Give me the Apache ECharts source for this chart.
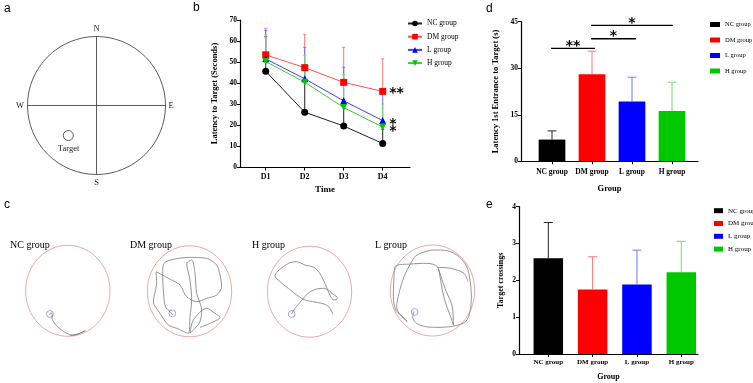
<!DOCTYPE html>
<html>
<head>
<meta charset="utf-8">
<script src="https://cdn.jsdelivr.net/npm/echarts@6/dist/echarts.min.js"></script>
<style>
  html, body { margin: 0; padding: 0; background: #fff; }
  #main { width: 753px; height: 383px; }
</style>
</head>
<body>
<div id="main"></div>
<script>
// ---- data ----
const groups = ['NC group', 'DM group', 'L group', 'H group'];
const groupColors = ['#000000', '#ff0000', '#0000ff', '#00c800'];
const errColors = ['#222222', '#ff7373', '#7373ff', '#73d873'];

// panel b: latency to target per day
const days = [1, 2, 3, 4];
const dayLabels = ['D1', 'D2', 'D3', 'D4'];
const ncLatency = [45.6, 26.1, 19.5, 11.2];
const dmLatency = [53.4, 47.3, 40.3, 36.0];
const lLatency = [51.5, 42.0, 31.5, 22.1];
const hLatency = [50.2, 40.4, 28.3, 19.0];
const ncLatencyUp = [62, 47, 32, 18];
const dmLatencyUp = [66, 63, 57, 51.5];
const lLatencyUp = [65, 57, 47.5, 35];
const hLatencyUp = [63, 53, 44, 30];
const d4Marks = ['', '**', '*', '*'];

// panel d: latency 1st entrance
const entryMean = [7.0, 28.1, 19.3, 16.2];
const entryUp = [9.8, 35.5, 27.1, 25.5];
const sigFrom = [0.975, 1.975, 1.975];
const sigTo = [2.075, 3.1, 4.02];
const sigLevel = [36.4, 39.5, 43.8];
const sigText = ['**', '*', '*'];

// panel e: target crossings
const crossMean = [2.6, 1.75, 1.89, 2.22];
const crossUp = [3.57, 2.64, 2.82, 3.06];

// panel c: swim paths (arena units 0..300)
const ncPath = [[88,225],[93,218],[97,223],[96,233],[101,246],[111,259],[125,270],[140,280],[156,285],[176,281],[196,272],[172,283],[150,287]];
const dmPath = [[98,225],[90,215],[76,200],[70,150],[68,100],[72,70],[100,58],[150,52],[200,55],[230,75],[240,105],[245,140],[230,165],[200,175],[170,185],[140,170],[120,135],[95,120],[48,95],[50,130],[40,185],[60,220],[85,255],[110,265],[145,280],[150,230],[155,180],[150,120],[140,70],[155,60],[165,100],[170,160],[185,210],[180,245],[165,265],[150,280],[160,240],[200,205],[225,220],[240,232],[210,250],[180,262]];
const hPath = [[95,222],[105,205],[118,190],[130,175],[148,157],[170,147],[190,145],[208,152],[218,162],[228,168],[232,176],[222,180],[212,170],[203,150],[190,120],[178,98],[162,82],[135,75],[110,65],[90,68],[70,80],[52,95],[45,108],[60,125],[85,145],[110,165],[135,180],[165,186],[195,193],[210,205],[218,222]];
const lPath = [[90,215],[86,230],[95,248],[125,260],[165,262],[210,258],[245,245],[258,215],[262,170],[258,120],[248,80],[225,50],[190,32],[150,30],[115,38],[95,48],[80,70],[60,110],[45,160],[38,200],[45,220],[60,235],[70,245],[50,225],[35,210],[28,170],[30,110],[35,78],[80,72],[130,70],[160,80],[168,110],[175,150],[185,190],[200,230],[208,255],[205,200],[185,150],[162,82],[200,85],[240,100],[252,125]];

// ---- layout ----
const serif = 'Liberation Serif';
const sans = 'Liberation Sans';
const trajBoxes = [[20, 240], [140, 240], [260, 240], [384, 240]];
const arenas = [[67.8, 290.8], [189.5, 291.3], [309.5, 291.7], [432.5, 290.5]];
const targets = [[50, 314], [172.3, 313.3], [291.7, 314], [414.7, 312]];
const trajTitles = [[10, 'NC group'], [130, 'DM group'], [252, 'H group'], [375, 'L group']];

const chart = echarts.init(document.getElementById('main'), null, {renderer: 'canvas'});

function axisBase() {
  return {
    axisLine: {show: true, lineStyle: {color: '#000', width: 1.2}},
    axisTick: {show: true, length: 3, lineStyle: {color: '#000', width: 1}},
    splitLine: {show: false},
    axisLabel: {color: '#000', fontFamily: serif, fontWeight: 'bold', fontSize: 7.5, margin: 3},
    nameTextStyle: {color: '#000', fontFamily: serif, fontWeight: 'bold', fontSize: 8.5}
  };
}

function errRender(capW) {
  return function (params, api) {
    const x = api.value(0), m = api.value(1), u = api.value(2);
    const p0 = api.coord([x, m]);
    const p1 = api.coord([x, u]);
    const color = api.visual('color');
    return {
      type: 'group',
      children: [
        {type: 'line', shape: {x1: p0[0], y1: p0[1], x2: p1[0], y2: p1[1]}, style: {stroke: color, lineWidth: 1}},
        {type: 'line', shape: {x1: p1[0] - capW / 2, y1: p1[1], x2: p1[0] + capW / 2, y2: p1[1]}, style: {stroke: color, lineWidth: 1}}
      ]
    };
  };
}

const xAxes = [];
const yAxes = [];
const grids = [];

// b
grids.push({left: 240, top: 20, width: 170, height: 147});
xAxes.push(Object.assign(axisBase(), {
  type: 'value', gridIndex: 0, min: 0.34, max: 4.7,
  axisTick: {show: true, length: 3.5, customValues: days, lineStyle: {color: '#000'}},
  axisLabel: {color: '#000', fontFamily: serif, fontWeight: 'bold', fontSize: 8, margin: 6,
    customValues: days, formatter: v => dayLabels[v - 1]},
  name: 'Time', nameLocation: 'middle', nameGap: 18.5,
  nameTextStyle: {color: '#000', fontFamily: serif, fontWeight: 'bold', fontSize: 9}
}));
yAxes.push(Object.assign(axisBase(), {
  type: 'value', gridIndex: 0, min: 0, max: 70, interval: 10,
  name: 'Latency to Target (Seconds)', nameLocation: 'middle', nameGap: 21
}));

// d
grids.push({left: 521, top: 21.7, width: 177, height: 139.6});
xAxes.push(Object.assign(axisBase(), {
  type: 'value', gridIndex: 1, min: 0.225, max: 4.65,
  axisTick: {show: true, length: 3, customValues: [1, 2, 3, 4], lineStyle: {color: '#000'}},
  axisLabel: {color: '#000', fontFamily: serif, fontWeight: 'bold', fontSize: 7.5, margin: 7,
    customValues: [1, 2, 3, 4], formatter: v => groups[v - 1]},
  name: 'Group', nameLocation: 'middle', nameGap: 23,
  nameTextStyle: {color: '#000', fontFamily: serif, fontWeight: 'bold', fontSize: 8.5}
}));
yAxes.push(Object.assign(axisBase(), {
  type: 'value', gridIndex: 1, min: 0, max: 45, interval: 15,
  name: 'Latency 1st Entrance to Target (s)', nameLocation: 'middle', nameGap: 21
}));

// e
grids.push({left: 519, top: 206.7, width: 179, height: 147.3});
xAxes.push(Object.assign(axisBase(), {
  type: 'value', gridIndex: 2, min: 0.339, max: 4.377,
  axisTick: {show: true, length: 3, customValues: [1, 2, 3, 4], lineStyle: {color: '#000'}},
  axisLabel: {color: '#000', fontFamily: serif, fontWeight: 'bold', fontSize: 7, margin: 5,
    customValues: [1, 2, 3, 4], formatter: v => groups[v - 1]},
  name: 'Group', nameLocation: 'middle', nameGap: 19,
  nameTextStyle: {color: '#000', fontFamily: serif, fontWeight: 'bold', fontSize: 8}
}));
yAxes.push(Object.assign(axisBase(), {
  type: 'value', gridIndex: 2, min: 0, max: 4, interval: 1,
  name: 'Target crossings', nameLocation: 'middle', nameGap: 14,
  nameTextStyle: {color: '#000', fontFamily: serif, fontWeight: 'bold', fontSize: 8}
}));

// c trajectories
trajBoxes.forEach((b, i) => {
  grids.push({left: b[0], top: b[1], width: 100, height: 100});
  xAxes.push({type: 'value', gridIndex: 3 + i, min: 0, max: 300, show: false});
  yAxes.push({type: 'value', gridIndex: 3 + i, min: 0, max: 300, inverse: true, show: false});
});

const series = [];
const latency = [ncLatency, dmLatency, lLatency, hLatency];
const latencyUp = [ncLatencyUp, dmLatencyUp, lLatencyUp, hLatencyUp];
const symbols = ['circle', 'rect', 'triangle', 'triangle'];
const lineColors = ['#222222', '#ff5050', '#4040ff', '#40c840'];

groups.forEach((g, gi) => {
  series.push({
    type: 'custom', name: 'b:err' + gi, xAxisIndex: 0, yAxisIndex: 0, z: 1,
    itemStyle: {color: errColors[gi]},
    renderItem: errRender(3),
    data: days.map((d, i) => [d, latency[gi][i], latencyUp[gi][i]])
  });
});
groups.forEach((g, gi) => {
  series.push({
    type: 'line', name: 'b:' + g, xAxisIndex: 0, yAxisIndex: 0, z: 3,
    symbol: symbols[gi], symbolSize: 7, symbolRotate: gi === 3 ? 180 : 0,
    itemStyle: {color: groupColors[gi]},
    lineStyle: {color: lineColors[gi], width: 1},
    data: days.map((d, i) => {
      const item = {value: [d, latency[gi][i]]};
      if (i === 3 && d4Marks[gi]) {
        item.label = {show: true, position: 'right', distance: 3, formatter: d4Marks[gi],
          color: '#000', fontFamily: 'DejaVu Sans', fontWeight: 'bold', fontSize: 14,
          offset: [0, gi === 1 ? 1.5 : 4]};
      }
      return item;
    })
  });
});

// d bars
groups.forEach((g, gi) => {
  series.push({
    type: 'bar', name: 'd:' + g, xAxisIndex: 1, yAxisIndex: 1, barWidth: 26.7, barGap: '-100%',
    itemStyle: {color: groupColors[gi]},
    data: [[gi + 1, entryMean[gi]]]
  });
});
series.push({
  type: 'custom', name: 'd:err', xAxisIndex: 1, yAxisIndex: 1, z: 3,
  renderItem: errRender(9),
  data: groups.map((g, gi) => ({value: [gi + 1, entryMean[gi], entryUp[gi]], itemStyle: {color: errColors[gi]}}))
});
series.push({
  type: 'custom', name: 'd:sig', xAxisIndex: 1, yAxisIndex: 1, z: 4,
  renderItem: function (params, api) {
    const a = api.coord([api.value(0), api.value(2)]);
    const b = api.coord([api.value(1), api.value(2)]);
    return {
      type: 'group',
      children: [
        {type: 'line', shape: {x1: a[0], y1: a[1], x2: b[0], y2: b[1]}, style: {stroke: '#000', lineWidth: 1.3}},
        {type: 'text', x: (a[0] + b[0]) / 2, y: a[1] + 4.5,
          style: {text: sigText[params.dataIndex], align: 'center', verticalAlign: 'bottom',
            font: 'bold 14px "DejaVu Sans"', fill: '#000'}}
      ]
    };
  },
  data: sigFrom.map((f, i) => [f, sigTo[i], sigLevel[i]])
});

// e bars
groups.forEach((g, gi) => {
  series.push({
    type: 'bar', name: 'e:' + g, xAxisIndex: 2, yAxisIndex: 2, barWidth: 29.5, barGap: '-100%',
    itemStyle: {color: groupColors[gi]},
    data: [[gi + 1, crossMean[gi]]]
  });
});
series.push({
  type: 'custom', name: 'e:err', xAxisIndex: 2, yAxisIndex: 2, z: 3,
  renderItem: errRender(9),
  data: groups.map((g, gi) => ({value: [gi + 1, crossMean[gi], crossUp[gi]], itemStyle: {color: errColors[gi]}}))
});

// c paths
[ncPath, dmPath, hPath, lPath].forEach((p, i) => {
  series.push({
    type: 'line', name: 'c:' + i, xAxisIndex: 3 + i, yAxisIndex: 3 + i,
    showSymbol: false, symbol: 'none', smooth: 0.3,
    lineStyle: {color: '#7a7a7a', width: 0.8},
    data: p
  });
});

// graphics: panel letters, panel a diagram, arenas
const graphic = [];
[['a', 4, 9], ['b', 193, 8], ['c', 4, 205], ['d', 486, 9], ['e', 486, 205]].forEach(l => {
  graphic.push({type: 'text', x: l[1], y: l[2], style: {text: l[0], font: '12px "' + sans + '"', fill: '#000', verticalAlign: 'middle'}});
});
graphic.push({type: 'circle', shape: {cx: 96.5, cy: 105.5, r: 69}, style: {fill: 'none', stroke: '#333', lineWidth: 0.8}});
graphic.push({type: 'line', shape: {x1: 96.5, y1: 36.5, x2: 96.5, y2: 174.5}, style: {stroke: '#333', lineWidth: 0.8}});
graphic.push({type: 'line', shape: {x1: 27.5, y1: 105.5, x2: 165.5, y2: 105.5}, style: {stroke: '#333', lineWidth: 0.8}});
graphic.push({type: 'circle', shape: {cx: 68.3, cy: 135.5, r: 5}, style: {fill: 'none', stroke: '#333', lineWidth: 0.8}});
[['N', 96.5, 29], ['S', 96.5, 183], ['W', 20, 106], ['E', 171, 106], ['Target', 68.7, 149]].forEach(t => {
  graphic.push({type: 'text', x: t[1], y: t[2], style: {text: t[0], font: '8.5px "' + serif + '"', fill: '#222', align: 'center', verticalAlign: 'middle'}});
});
arenas.forEach(a => {
  graphic.push({type: 'ellipse', shape: {cx: a[0], cy: a[1], rx: 42.2, ry: 45.5}, style: {fill: 'none', stroke: '#e89090', lineWidth: 0.8}});
});
targets.forEach(t => {
  graphic.push({type: 'circle', shape: {cx: t[0], cy: t[1], r: 3.4}, style: {fill: 'none', stroke: '#8080d0', lineWidth: 0.7}});
});
trajTitles.forEach(t => {
  graphic.push({type: 'text', x: t[0], y: 245, style: {text: t[1], font: '10px "' + serif + '"', fill: '#000', verticalAlign: 'middle'}});
});

const legendText = {color: '#000', fontFamily: serif, fontSize: 7.5};
chart.setOption({
  animation: false,
  backgroundColor: '#fff',
  grid: grids,
  xAxis: xAxes,
  yAxis: yAxes,
  legend: [
    {data: groups.map(g => 'b:' + g), orient: 'vertical', left: 407, top: 19.5, padding: 0, itemWidth: 14, itemHeight: 7,
      itemGap: 5.2, selectedMode: false, formatter: n => n.slice(2), textStyle: legendText},
    {data: groups.map(g => 'd:' + g), orient: 'vertical', left: 710, top: 21, padding: 0, itemWidth: 10, itemHeight: 5,
      itemGap: 8.5, icon: 'rect', selectedMode: false, formatter: n => n.slice(2), textStyle: Object.assign({}, legendText, {fontSize: 6.5})},
    {data: groups.map(g => 'e:' + g), orient: 'vertical', left: 714, top: 207.2, padding: 0, itemWidth: 9, itemHeight: 5,
      itemGap: 5.8, icon: 'rect', selectedMode: false, formatter: n => n.slice(2), textStyle: Object.assign({}, legendText, {fontSize: 7})}
  ],
  graphic: graphic,
  series: series
});
</script>
</body>
</html>
